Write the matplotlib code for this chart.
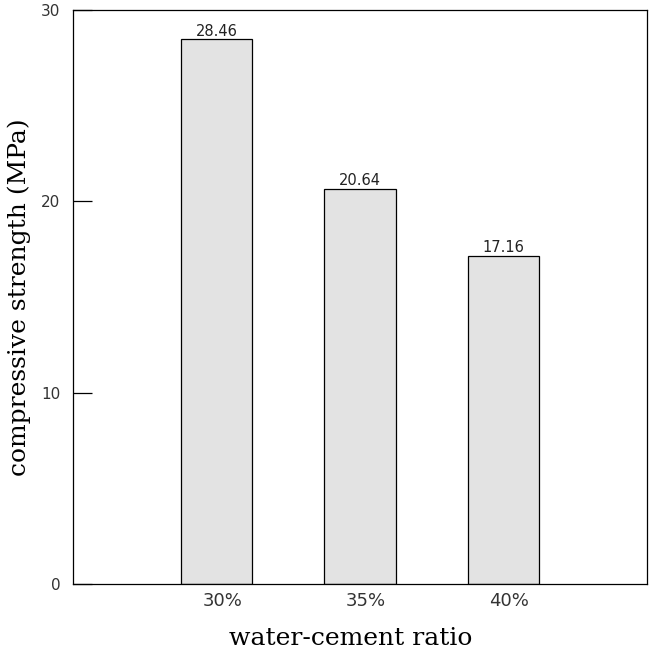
import matplotlib
matplotlib.use('Agg')
from matplotlib import pyplot as plt
import numpy as np

# 水灰比与抗压强度
categories = ['30%', '35%', '40%']
strength = [28.46, 20.64, 17.16]
yticks = [0, 10, 20, 30]

fig = plt.figure(figsize=(6.53, 6.55), dpi=100)
ax = fig.add_axes([73/653, 1-584/655, 574/653, 574/655])

x = np.arange(1, len(categories)+1)
ax.bar(x, strength, width=0.5, color='#e3e3e3', edgecolor='black', linewidth=0.9)
for xi, v in zip(x, strength):
    ax.text(xi, v+0.05, '%.2f' % v, ha='center', va='bottom', fontsize=10.5,
            family='DejaVu Sans', color='#222222')

ax.set_xlim(0, 4)
ax.set_ylim(0, 30)
ax.set_xticks(x + 0.04)
ax.set_xticklabels(categories, fontsize=13, family='DejaVu Sans', color='#333333')
ax.tick_params(axis='x', length=0, pad=6)
ax.set_yticks(yticks)
ax.set_yticklabels([str(t) for t in yticks], fontsize=11, family='DejaVu Sans', color='#333333')
ax.tick_params(axis='y', direction='in', length=14, width=0.9, pad=9)
for s in ax.spines.values():
    s.set_linewidth(0.9)

ax.set_xlabel('water-cement ratio', fontsize=18, family='DejaVu Serif')
ax.xaxis.set_label_coords(0.484, -0.075)
ax.set_ylabel('compressive strength (MPa)', fontsize=18, family='DejaVu Serif', labelpad=7)

fig.savefig('out.png', dpi=100)
